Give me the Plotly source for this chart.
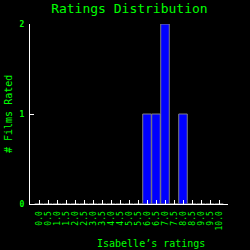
import plotly.graph_objects as go

categories = ["0.0", "0.5", "1.0", "1.5", "2.0", "2.5", "3.0", "3.5", "4.0", "4.5",
              "5.0", "5.5", "6.0", "6.5", "7.0", "7.5", "8.0", "8.5", "9.0", "9.5", "10.0"]
counts = [0, 0, 0, 0, 0, 0, 0, 0, 0, 0, 0, 0, 1, 1, 2, 0, 1, 0, 0, 0, 0]
y_ticks = [0, 1, 2]

GREEN = "#00ff00"
MONO = "DejaVu Sans Mono"

fig = go.Figure(go.Bar(
    x=categories, y=counts,
    marker=dict(color="#0000ff", line=dict(color="#808080", width=1)),
))

fig.update_layout(
    width=250, height=250,
    paper_bgcolor="black", plot_bgcolor="black",
    margin=dict(l=30, r=22, t=24, b=46),
    bargap=0.05,
    showlegend=False,
    title=dict(text="Ratings Distribution", x=129.4 / 250, xanchor="center",
               y=1 - 8.5 / 250, yanchor="middle",
               font=dict(family=MONO, size=13, color=GREEN)),
    xaxis=dict(type="category", range=[-1, 21], showgrid=False, zeroline=False,
               automargin=False,
               tickmode="array", tickvals=categories, ticktext=categories,
               showline=True, linecolor="white", linewidth=1,
               ticks="inside", ticklen=4, tickcolor="white", tickwidth=1,
               ticklabelstandoff=3,
               tickangle=-90,
               tickfont=dict(family=MONO, size=8, color=GREEN)),
    yaxis=dict(range=[0, 2], tickvals=y_ticks, showgrid=False, zeroline=False,
               automargin=False,
               showline=True, linecolor="white", linewidth=1,
               ticks="inside", ticklen=4, tickcolor="white", tickwidth=1,
               ticklabelstandoff=3,
               tickfont=dict(family=MONO, size=8, color=GREEN, weight="bold")),
    annotations=[
        dict(text="Isabelle’s ratings", xref="paper", yref="paper",
             x=(150.5 - 30) / 198, y=-(243 - 204) / 180,
             xanchor="center", yanchor="middle", showarrow=False,
             font=dict(family=MONO, size=10, color=GREEN)),
        dict(text="# Films Rated", xref="paper", yref="paper",
             x=-(30 - 8) / 198, y=0.5, textangle=-90,
             xanchor="center", yanchor="middle", showarrow=False,
             font=dict(family=MONO, size=10, color=GREEN)),
    ],
)

fig.write_html("out.html")
